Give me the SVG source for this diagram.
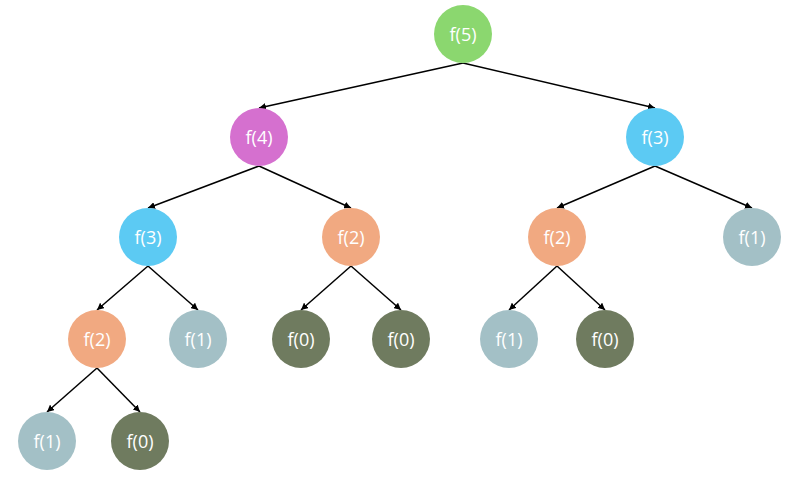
<svg xmlns="http://www.w3.org/2000/svg" width="792" height="486" viewBox="0 0 792 486">
<style>
.n text{font-family:"Open Sans","Noto Sans",sans-serif;font-size:18px;fill:#fff;text-anchor:middle;dominant-baseline:central}
.e line{stroke:#000;stroke-width:1.5;marker-end:url(#ah)}
.g5{fill:#8bd76f}.g4{fill:#d570cf}.g3{fill:#5ccaf3}.g2{fill:#f1a981}.g1{fill:#a3c0c6}.g0{fill:#6f7b5f}
</style>
<defs>
<marker id="ah" viewBox="0 0 10 10" refX="10" refY="5" markerWidth="7" markerHeight="7" orient="auto" markerUnits="userSpaceOnUse"><path d="M0,0L10,5L0,10z" fill="#000"/></marker>
</defs>
<g class="e" id="edges">
<line x1="463" y1="63" x2="259" y2="108"/>
<line x1="463" y1="63" x2="655" y2="108"/>
<line x1="259" y1="166" x2="148" y2="208"/>
<line x1="259" y1="166" x2="351" y2="208"/>
<line x1="655" y1="166" x2="557" y2="208"/>
<line x1="655" y1="166" x2="752" y2="208"/>
<line x1="148" y1="266" x2="97" y2="310"/>
<line x1="148" y1="266" x2="198" y2="310"/>
<line x1="351" y1="266" x2="301" y2="310"/>
<line x1="351" y1="266" x2="401" y2="310"/>
<line x1="557" y1="266" x2="509" y2="310"/>
<line x1="557" y1="266" x2="605" y2="310"/>
<line x1="97" y1="368" x2="47" y2="412"/>
<line x1="97" y1="368" x2="140" y2="412"/>
</g>
<g class="n" id="n5"><circle class="g5" cx="463" cy="34" r="29"/><text x="463" y="34">f(5)</text></g>
<g class="n" id="n4"><circle class="g4" cx="259" cy="137" r="29"/><text x="259" y="137">f(4)</text></g>
<g class="n" id="n3r"><circle class="g3" cx="655" cy="137" r="29"/><text x="655" y="137">f(3)</text></g>
<g class="n" id="n3l"><circle class="g3" cx="148" cy="237" r="29"/><text x="148" y="237">f(3)</text></g>
<g class="n" id="n2a"><circle class="g2" cx="351" cy="237" r="29"/><text x="351" y="237">f(2)</text></g>
<g class="n" id="n2b"><circle class="g2" cx="557" cy="237" r="29"/><text x="557" y="237">f(2)</text></g>
<g class="n" id="n1a"><circle class="g1" cx="752" cy="237" r="29"/><text x="752" y="237">f(1)</text></g>
<g class="n" id="n2c"><circle class="g2" cx="97" cy="339" r="29"/><text x="97" y="339">f(2)</text></g>
<g class="n" id="n1b"><circle class="g1" cx="198" cy="339" r="29"/><text x="198" y="339">f(1)</text></g>
<g class="n" id="n0a"><circle class="g0" cx="301" cy="339" r="29"/><text x="301" y="339">f(0)</text></g>
<g class="n" id="n0b"><circle class="g0" cx="401" cy="339" r="29"/><text x="401" y="339">f(0)</text></g>
<g class="n" id="n1c"><circle class="g1" cx="509" cy="339" r="29"/><text x="509" y="339">f(1)</text></g>
<g class="n" id="n0c"><circle class="g0" cx="605" cy="339" r="29"/><text x="605" y="339">f(0)</text></g>
<g class="n" id="n1d"><circle class="g1" cx="47" cy="441" r="29"/><text x="47" y="441">f(1)</text></g>
<g class="n" id="n0d"><circle class="g0" cx="140" cy="441" r="29"/><text x="140" y="441">f(0)</text></g>
</svg>
